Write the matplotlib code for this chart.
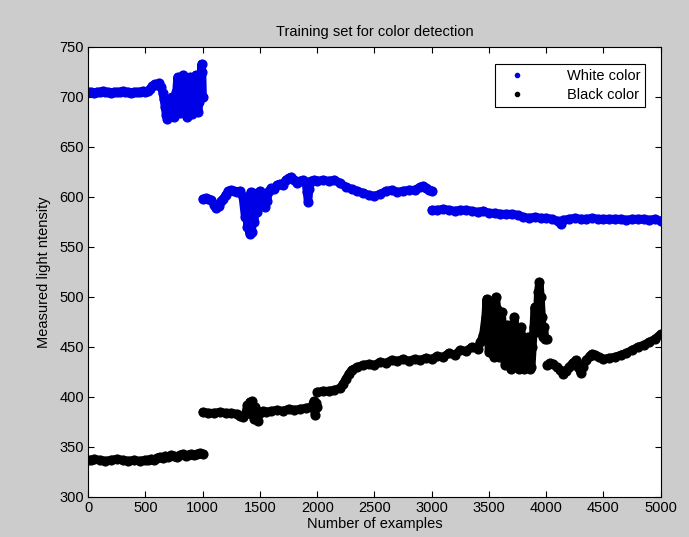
import numpy as np
import matplotlib
matplotlib.use("Agg")
import matplotlib.pyplot as plt
from matplotlib.lines import Line2D

plt.rcParams['font.family'] = ['Liberation Sans Narrow', 'Liberation Sans', 'DejaVu Sans']

# ---------------- data ----------------
white_x = [0, 25, 50, 75, 100, 125, 150, 175, 200, 225, 250, 275, 300, 325, 350, 375, 400, 425, 450, 475, 500,
           520, 540, 560, 580, 600, 620, 640, 650, 660, 670, 680, 690, 700, 710, 720, 730, 740, 750, 760, 770,
           780, 790, 800, 810, 820, 830, 840, 850, 860, 870, 880, 890, 900, 910, 920, 930, 940, 950, 960, 970,
           980, 990, 995, 1000,
           1000, 1025, 1050, 1075, 1100, 1120, 1140, 1160, 1180, 1200, 1225, 1250, 1275, 1300, 1325, 1350, 1370,
           1380, 1390, 1400, 1410, 1420, 1430, 1440, 1450, 1460, 1470, 1480, 1500, 1525, 1545, 1560, 1580, 1600,
           1625, 1650, 1675, 1700, 1725, 1750, 1775, 1800, 1825, 1850, 1875, 1900, 1910, 1920, 1930, 1950, 1975,
           2000, 2050, 2100, 2150, 2200, 2250, 2300, 2350, 2400, 2450, 2500, 2550, 2600, 2650, 2700, 2750, 2800,
           2850, 2900, 2925, 2950, 2975, 3000,
           3000, 3050, 3100, 3150, 3200, 3250, 3300, 3350, 3400, 3450, 3500, 3550, 3600, 3650, 3700, 3750, 3800,
           3850, 3900, 3950, 4000, 4050, 4100, 4125, 4150, 4200, 4250, 4300, 4350, 4400, 4450, 4500, 4550, 4600,
           4650, 4700, 4750, 4800, 4850, 4900, 4950, 5000]
white_y = [705, 705, 704, 705, 705, 706, 705, 705, 704, 705, 705, 705, 706, 705, 705, 704, 705, 705, 705, 706, 705,
           706, 708, 711, 713, 712, 714, 710, 704, 698, 690, 682, 678, 680, 688, 696, 700, 688, 680, 690, 705,
           720, 700, 684, 695, 712, 722, 705, 686, 680, 700, 718, 720, 700, 683, 690, 712, 722, 705, 685, 695,
           715, 733, 725, 700,
           598, 599, 598, 597, 592, 589, 591, 596, 598, 602, 606, 607, 606, 605, 606, 600, 580,
           600, 570, 600, 563, 605, 565, 604, 575, 600, 585, 604, 606, 600, 590, 596, 606, 609,
           608, 612, 613, 612, 617, 619, 620, 617, 614, 616, 617, 615, 605, 595, 608, 616, 617,
           616, 617, 616, 617, 614, 610, 608, 606, 604, 602, 601, 603, 606, 607, 605, 606, 607,
           607, 610, 611, 609, 607, 606,
           587, 587, 588, 587, 586, 587, 587, 586, 585, 586, 584, 584, 583, 583, 583, 582, 580,
           579, 580, 579, 579, 578, 576, 573, 577, 578, 579, 578, 578, 579, 578, 578, 578, 578,
           578, 577, 578, 578, 578, 577, 578, 576]

black_x = [0, 25, 50, 100, 150, 200, 250, 300, 350, 400, 450, 500, 525, 550, 575, 600, 625, 650, 675, 700, 725,
           750, 775, 800, 825, 850, 875, 900, 925, 950, 975, 1000,
           1000, 1050, 1100, 1150, 1200, 1250, 1300, 1325, 1350, 1375, 1390, 1400, 1410, 1420, 1430, 1440, 1450,
           1460, 1470, 1480, 1490, 1500, 1525, 1550, 1600, 1650, 1700, 1750, 1800, 1850, 1900, 1950, 1970, 1980,
           1990, 2000,
           2000, 2050, 2100, 2150, 2200, 2225, 2250, 2275, 2300, 2350, 2400, 2450, 2500, 2550, 2600, 2650, 2700,
           2750, 2800, 2850, 2900, 2950, 3000, 3050, 3100, 3150, 3200, 3250, 3300, 3350, 3400, 3425, 3450, 3470,
           3480, 3490, 3500, 3510, 3520, 3530, 3540, 3550, 3560, 3570, 3580, 3590, 3600, 3610, 3620, 3630, 3640,
           3650, 3660, 3670, 3680, 3690, 3700, 3710, 3720, 3730, 3740, 3750, 3760, 3770, 3780, 3790, 3800, 3810,
           3820, 3830, 3840, 3850, 3860, 3870, 3880, 3890, 3900, 3910, 3920, 3930, 3940, 3950, 3960, 3970, 3980,
           3990,
           4010, 4010, 4030, 4060, 4090, 4120, 4150, 4170, 4200, 4230, 4260, 4280, 4300, 4320, 4350, 4380, 4400,
           4430, 4460, 4500, 4550, 4600, 4650, 4700, 4750, 4800, 4850, 4900, 4950, 5000]
black_y = [337, 337, 338, 337, 336, 337, 338, 337, 336, 337, 336, 337, 337, 338, 337, 339, 340, 339, 341, 340, 342,
           341, 340, 342, 343, 341, 342, 343, 342, 343, 344, 343,
           385, 384, 384, 385, 384, 384, 383, 381, 380, 384, 392, 386, 395, 383, 396, 388, 378,
           390, 382, 376, 385, 384, 386, 385, 386, 387, 386, 388, 387, 388, 389, 390, 396, 382,
           394, 390,
           405, 406, 406, 407, 409, 413, 418, 423, 427, 430, 432, 433, 432, 435, 434, 437, 436,
           438, 436, 438, 437, 439, 438, 441, 440, 444, 442, 447, 446, 450, 448, 455, 462, 480,
           498, 470, 445, 475, 492, 465, 440, 470, 500, 488, 460, 440, 465, 485, 470, 445, 432,
           455, 472, 460, 438, 428, 445, 465, 480, 470, 450, 432, 428, 450, 470, 455, 435, 428,
           432, 445, 460, 440, 428, 430, 450, 470, 490, 465, 480, 505, 515, 500, 480, 460, 470,
           458,
           458, 432, 434, 433, 430, 427, 423, 426, 430, 434, 437, 430, 424, 430, 437, 441, 443,
           442, 440, 438, 439, 440, 442, 444, 447, 450, 452, 455, 458, 463]

series_names = ['White color', 'Black color']
series_colors = ['#0000e6', '#000000']
x_ticks = [0, 500, 1000, 1500, 2000, 2500, 3000, 3500, 4000, 4500, 5000]
y_ticks = [300, 350, 400, 450, 500, 550, 600, 650, 700, 750]


def with_breaks(x, y):
    """Insert NaN where the x value repeats (segment boundary) so no jump line is drawn."""
    xs, ys = [], []
    for i in range(len(x)):
        if i > 0 and x[i] == x[i - 1]:
            xs.append(np.nan)
            ys.append(np.nan)
        xs.append(x[i])
        ys.append(y[i])
    return np.array(xs, float), np.array(ys, float)


fig = plt.figure(figsize=(6.89, 5.37), dpi=100, facecolor='#cccccc')
ax = fig.add_axes([0.128, 0.0745, 0.831, 0.838])
ax.set_facecolor('white')

for (x, y), c in zip([(white_x, white_y), (black_x, black_y)], series_colors):
    bx, by = with_breaks(x, y)
    ax.plot(bx, by, '-', color=c, lw=6.0, solid_capstyle='round', solid_joinstyle='round')
    ax.plot(x, y, 'o', color=c, ms=6.3, mec=c)

ax.set_xlim(0, 5000)
ax.set_ylim(300, 750)
ax.set_xticks(x_ticks)
ax.set_yticks(y_ticks)
ax.tick_params(direction='in', length=4, top=True, right=True, labelsize=10.5, width=0.8, pad=3)
for s in ax.spines.values():
    s.set_linewidth(0.8)

ax.set_title('Training set for color detection', fontsize=10.5, pad=8)
ax.set_xlabel('Number of examples', fontsize=10.5, labelpad=1)
ax.set_ylabel('Measured light ntensity', fontsize=10.5, labelpad=6)

handles = [Line2D([], [], ls='none', marker='o', ms=3, color=c) for c in series_colors]
leg = ax.legend(handles, series_names, loc='upper right', bbox_to_anchor=(0.986, 0.978),
                fancybox=False, framealpha=1, edgecolor='black', borderpad=0.35,
                handletextpad=2.2, handlelength=2.4, labelspacing=0.35,
                prop={'family': ['Liberation Sans', 'DejaVu Sans'], 'size': 10.5})
leg.get_frame().set_linewidth(0.8)

fig.savefig('out.png', dpi=100, facecolor=fig.get_facecolor())
